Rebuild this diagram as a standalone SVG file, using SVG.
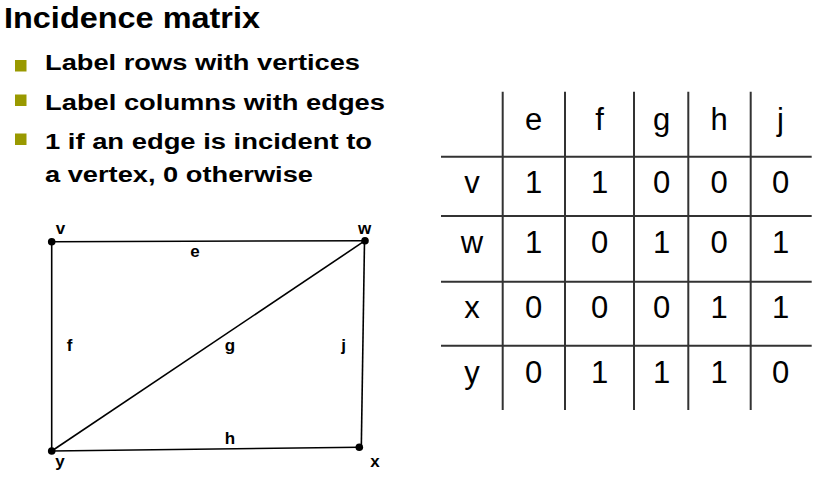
<svg xmlns="http://www.w3.org/2000/svg" width="817" height="479" viewBox="0 0 817 479">
<style>
.title{font-family:"Liberation Sans",Arial,sans-serif;font-weight:bold;font-size:30px;fill:#000}
.bul{font-family:"Liberation Sans",Arial,sans-serif;font-weight:bold;font-size:22px;fill:#000}
.sq{fill:#999900}
.edge{stroke:#000;stroke-width:1.6;fill:none}
.dot{fill:#000}
.gl{font-family:"Liberation Sans",Arial,sans-serif;font-weight:bold;font-size:17px;fill:#000;text-anchor:middle}
.tl{stroke:#333;stroke-width:2}
.tt{font-family:"Liberation Sans",Arial,sans-serif;font-size:31px;fill:#000;text-anchor:middle}
</style>
<rect width="817" height="479" fill="#fff"/>
<g id="heading">
<text class="title" x="4" y="28" textLength="256" lengthAdjust="spacingAndGlyphs">Incidence matrix</text>
</g>
<g id="bullets">
<rect class="sq" x="15" y="60" width="11.5" height="11.5"/>
<text class="bul" x="45" y="70" textLength="315" lengthAdjust="spacingAndGlyphs">Label rows with vertices</text>
<rect class="sq" x="15" y="94.5" width="11.5" height="11.5"/>
<text class="bul" x="45" y="110" textLength="340" lengthAdjust="spacingAndGlyphs">Label columns with edges</text>
<rect class="sq" x="15" y="133.5" width="11.5" height="11.5"/>
<text class="bul" x="45" y="148.5" textLength="327" lengthAdjust="spacingAndGlyphs">1 if an edge is incident to</text>
<text class="bul" x="45" y="182" textLength="268" lengthAdjust="spacingAndGlyphs">a vertex, 0 otherwise</text>
</g>
<g id="connectors">
<line id="edge-e" class="edge" x1="51.7" y1="241.7" x2="365" y2="240.7"/>
<line id="edge-f" class="edge" x1="51.7" y1="241.7" x2="51.7" y2="451"/>
<line id="edge-g" class="edge" x1="51.7" y1="451" x2="365" y2="240.7"/>
<line id="edge-h" class="edge" x1="51.7" y1="451" x2="359.3" y2="447.3"/>
<line id="edge-j" class="edge" x1="364.5" y1="241" x2="361.3" y2="447.3"/>
<text class="gl" x="195" y="257">e</text>
<text class="gl" x="69.5" y="351">f</text>
<text class="gl" x="230" y="351">g</text>
<text class="gl" x="230" y="443.5">h</text>
<text class="gl" x="343.5" y="351">j</text>
</g>
<g id="node-v"><circle class="dot" cx="51.7" cy="241.7" r="3.8"/><text class="gl" x="60.5" y="234">v</text></g>
<g id="node-w"><circle class="dot" cx="365" cy="240.7" r="3.8"/><text class="gl" x="364.7" y="233.5">w</text></g>
<g id="node-x"><circle class="dot" cx="359.3" cy="447.3" r="3.8"/><text class="gl" x="375" y="467">x</text></g>
<g id="node-y"><circle class="dot" cx="51.7" cy="451" r="3.8"/><text class="gl" x="60" y="467">y</text></g>
<g id="matrix">
<line class="tl" x1="502.7" y1="91.7" x2="502.7" y2="410"/>
<line class="tl" x1="565" y1="91.7" x2="565" y2="410"/>
<line class="tl" x1="634" y1="91.7" x2="634" y2="410"/>
<line class="tl" x1="688.3" y1="91.7" x2="688.3" y2="410"/>
<line class="tl" x1="750.7" y1="91.7" x2="750.7" y2="410"/>
<line class="tl" x1="441" y1="156.7" x2="811.7" y2="156.7"/>
<line class="tl" x1="441" y1="216" x2="811.7" y2="216"/>
<line class="tl" x1="441" y1="281.7" x2="811.7" y2="281.7"/>
<line class="tl" x1="441" y1="345.7" x2="811.7" y2="345.7"/>
<text class="tt" x="533.5" y="130">e</text>
<text class="tt" x="599.5" y="130">f</text>
<text class="tt" x="661.5" y="130">g</text>
<text class="tt" x="719" y="130">h</text>
<text class="tt" x="780.5" y="130">j</text>
<text class="tt" x="472" y="193.3">v</text>
<text class="tt" x="533.5" y="193.3">1</text>
<text class="tt" x="599.5" y="193.3">1</text>
<text class="tt" x="661.5" y="193.3">0</text>
<text class="tt" x="719" y="193.3">0</text>
<text class="tt" x="780.5" y="193.3">0</text>
<text class="tt" x="472" y="253.3">w</text>
<text class="tt" x="533.5" y="253.3">1</text>
<text class="tt" x="599.5" y="253.3">0</text>
<text class="tt" x="661.5" y="253.3">1</text>
<text class="tt" x="719" y="253.3">0</text>
<text class="tt" x="780.5" y="253.3">1</text>
<text class="tt" x="472" y="318.3">x</text>
<text class="tt" x="533.5" y="318.3">0</text>
<text class="tt" x="599.5" y="318.3">0</text>
<text class="tt" x="661.5" y="318.3">0</text>
<text class="tt" x="719" y="318.3">1</text>
<text class="tt" x="780.5" y="318.3">1</text>
<text class="tt" x="472" y="383.3">y</text>
<text class="tt" x="533.5" y="383.3">0</text>
<text class="tt" x="599.5" y="383.3">1</text>
<text class="tt" x="661.5" y="383.3">1</text>
<text class="tt" x="719" y="383.3">1</text>
<text class="tt" x="780.5" y="383.3">0</text>
</g>
</svg>
